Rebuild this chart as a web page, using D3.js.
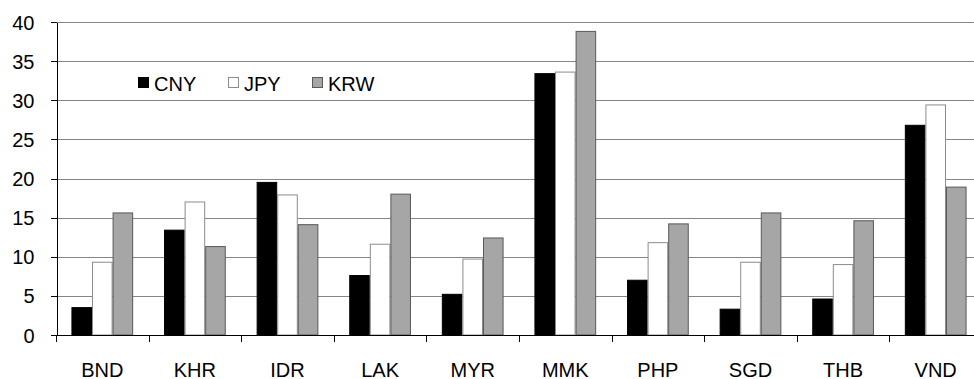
<!DOCTYPE html>
<html>
<head>
<meta charset="utf-8">
<script src="https://cdn.jsdelivr.net/npm/d3@7"></script>
<style>
html,body{margin:0;padding:0;background:#fff;overflow:hidden}
svg{display:block;font-family:"Liberation Sans",Arial,sans-serif}
</style>
</head>
<body>
<svg id="chart" width="974" height="379"></svg>
<script>
const categories = ["BND","KHR","IDR","LAK","MYR","MMK","PHP","SGD","THB","VND"];
const seriesNames = ["CNY","JPY","KRW"];
const cny = [3.5,13.4,19.5,7.6,5.2,33.4,7.0,3.3,4.6,26.8];
const jpy = [9.3,17.0,17.9,11.6,9.7,33.6,11.8,9.3,9.0,29.4];
const krw = [15.6,11.3,14.1,18.0,12.4,38.8,14.2,15.6,14.6,18.9];
const yTicks = [0,5,10,15,20,25,30,35,40];

(function(){
const seriesValues = [cny, jpy, krw];
const fills = ["#000000","#ffffff","#a6a6a6"];
const strokes = ["#000000","#8c8c8c","#595959"];
const FS = 20;

const svg = d3.select("#chart");
const pLeft = 56, pRight = 982, pTop = 22, pBottom = 335;

const y = d3.scaleLinear().domain([0,40]).range([pBottom, pTop]);
const x0 = d3.scaleBand().domain(categories).range([pLeft, pRight]).padding(0);
const x1 = d3.scaleBand().domain(seriesNames).range([0, x0.bandwidth()]).paddingInner(0).paddingOuter(0.75);

// gridlines
svg.append("g").selectAll("line").data(yTicks.filter(d=>d>0)).join("line")
  .attr("x1", pLeft).attr("x2", 974)
  .attr("y1", d=>Math.round(y(d))+0.5).attr("y2", d=>Math.round(y(d))+0.5)
  .attr("stroke", "#868686").attr("stroke-width", 1).attr("shape-rendering","crispEdges");

// bars
const groups = svg.append("g").selectAll("g").data(categories).join("g")
  .attr("transform", d=>`translate(${x0(d)},0)`);
groups.selectAll("rect").data((c,i)=>seriesNames.map((s,j)=>({s, j, v: seriesValues[j][i]}))).join("rect")
  .attr("x", d=>x1(d.s)+0.5)
  .attr("y", d=>y(d.v))
  .attr("width", x1.bandwidth()-1)
  .attr("height", d=>pBottom - y(d.v))
  .attr("fill", d=>fills[d.j])
  .attr("stroke", d=>strokes[d.j])
  .attr("stroke-width", 1);

// y axis
const yAxis = d3.axisLeft(y).tickValues(yTicks).tickSize(6).tickSizeOuter(0).tickPadding(16);
const gy = svg.append("g").attr("transform", `translate(${pLeft+0.5},0)`).call(yAxis);
gy.select(".domain").attr("stroke","#000").attr("shape-rendering","crispEdges");
gy.selectAll(".tick line").attr("stroke","#000").attr("shape-rendering","crispEdges");
gy.selectAll(".tick text").attr("font-size", FS).attr("fill","#000")
  .attr("font-family","'Liberation Sans',Arial,sans-serif").attr("dy","0.35em");

// x axis
const gx = svg.append("g").attr("transform", `translate(0,${pBottom+0.5})`);
gx.append("line").attr("x1", pLeft).attr("x2", 974).attr("y1",0).attr("y2",0)
  .attr("stroke","#000").attr("shape-rendering","crispEdges");
gx.selectAll("line.tk").data(categories.concat(["end"])).join("line").attr("class","tk")
  .attr("x1", (d,i)=>Math.round(pLeft + i*x0.step())+0.5)
  .attr("x2", (d,i)=>Math.round(pLeft + i*x0.step())+0.5)
  .attr("y1",0).attr("y2",6).attr("stroke","#000").attr("shape-rendering","crispEdges");
gx.selectAll("text").data(categories).join("text")
  .attr("x", d=>x0(d)+x0.bandwidth()/2)
  .attr("y", 41)
  .attr("text-anchor","middle")
  .attr("font-size",FS).attr("fill","#000")
  .text(d=>d);

// legend
const legendX = [138, 228, 312];
const lg = svg.append("g");
seriesNames.forEach((s,j)=>{
  lg.append("rect").attr("x", legendX[j]+0.5).attr("y", 77.5).attr("width", 10).attr("height", 10)
    .attr("fill", fills[j]).attr("stroke", strokes[j]);
  lg.append("text").attr("x", legendX[j]+16).attr("y", 91).attr("font-size",FS).attr("fill","#000").text(s);
});
})();
</script>
</body>
</html>
